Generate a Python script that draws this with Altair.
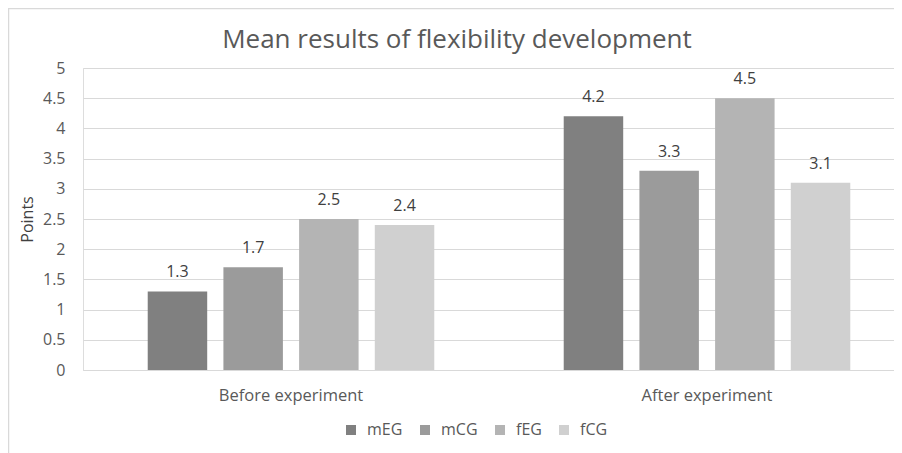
import altair as alt
import pandas as pd

categories = ["Before experiment", "After experiment"]
series = ["mEG", "mCG", "fEG", "fCG"]
before_vals = [1.3, 1.7, 2.5, 2.4]
after_vals = [4.2, 3.3, 4.5, 3.1]
colors = ["#808080", "#9b9b9b", "#b4b4b4", "#d0d0d0"]
y_ticks = [0, 0.5, 1, 1.5, 2, 2.5, 3, 3.5, 4, 4.5, 5]
chart_title = "Mean results of flexibility development"

rows = []
for cat, vals in zip(categories, [before_vals, after_vals]):
    for s, v in zip(series, vals):
        rows.append({"cat": cat, "series": s, "value": v})
df = pd.DataFrame(rows)

FONT = "Open Sans"
W, H = 811, 302

base = alt.Chart(df).encode(
    x=alt.X("cat:N", sort=categories,
            scale=alt.Scale(range=[0, 832], paddingInner=0, paddingOuter=0),
            axis=alt.Axis(title=None, labelAngle=0, ticks=False, domain=True,
                          domainColor="#d9d9d9", labelPadding=17,
                          labelFontSize=16.5, labelColor="#595959", labelFont=FONT)),
    xOffset=alt.XOffset("series:N", sort=series,
                        scale=alt.Scale(paddingInner=0.214, paddingOuter=0.855)),
    y=alt.Y("value:Q", scale=alt.Scale(domain=[0, 5], nice=False, zero=True),
            axis=alt.Axis(title="Points", values=y_ticks, tickCount=11, format="~g",
                          ticks=False, domain=False, grid=True, gridColor="#d9d9d9",
                          labelPadding=18, labelFontSize=16, labelColor="#595959",
                          labelFont=FONT, labelOverlap=False, titleFont=FONT,
                          titleFontSize=16, titleFontWeight="normal",
                          titleColor="#404040", titleX=-56, titleY=H / 2,
                          titleBaseline="middle")),
)

bars = base.mark_bar().encode(
    color=alt.Color("series:N", sort=series,
                    scale=alt.Scale(domain=series, range=colors),
                    legend=alt.Legend(title=None, orient="none", direction="horizontal",
                                      legendX=260, legendY=354, symbolType="square",
                                      symbolSize=100, symbolStrokeWidth=0,
                                      labelFontSize=16, labelFont=FONT,
                                      labelColor="#595959", labelOffset=8,
                                      columnPadding=14)),
)

labels = base.mark_text(baseline="middle", dy=-19, fontSize=16, font=FONT,
                        color="#404040").encode(
    text=alt.Text("value:Q", format=".1f"),
)

one = pd.DataFrame({"a": [0]})
left_edge = alt.Chart(one).mark_rule(color="#d9d9d9", strokeWidth=1.5).encode(
    x=alt.value(-74.5), y=alt.value(-60), y2=alt.value(400))
top_edge = alt.Chart(one).mark_rule(color="#d9d9d9", strokeWidth=1.5).encode(
    x=alt.value(-75), x2=alt.value(900), y=alt.value(-59.5))
title = alt.Chart(pd.DataFrame({"t": [chart_title]})).mark_text(
    font=FONT, fontSize=26, color="#595959", align="center", baseline="middle"
).encode(x=alt.value(374), y=alt.value(-28), text="t:N")

chart = alt.layer(left_edge, top_edge, title, bars, labels).properties(
    width=W, height=H,
    autosize=alt.AutoSizeParams(type="none"),
    padding={"left": 75, "top": 60, "right": 0, "bottom": 83},
).configure_view(stroke=None).configure(background="white")

chart.save("out.html", embed_options={"renderer": "svg", "actions": False})
